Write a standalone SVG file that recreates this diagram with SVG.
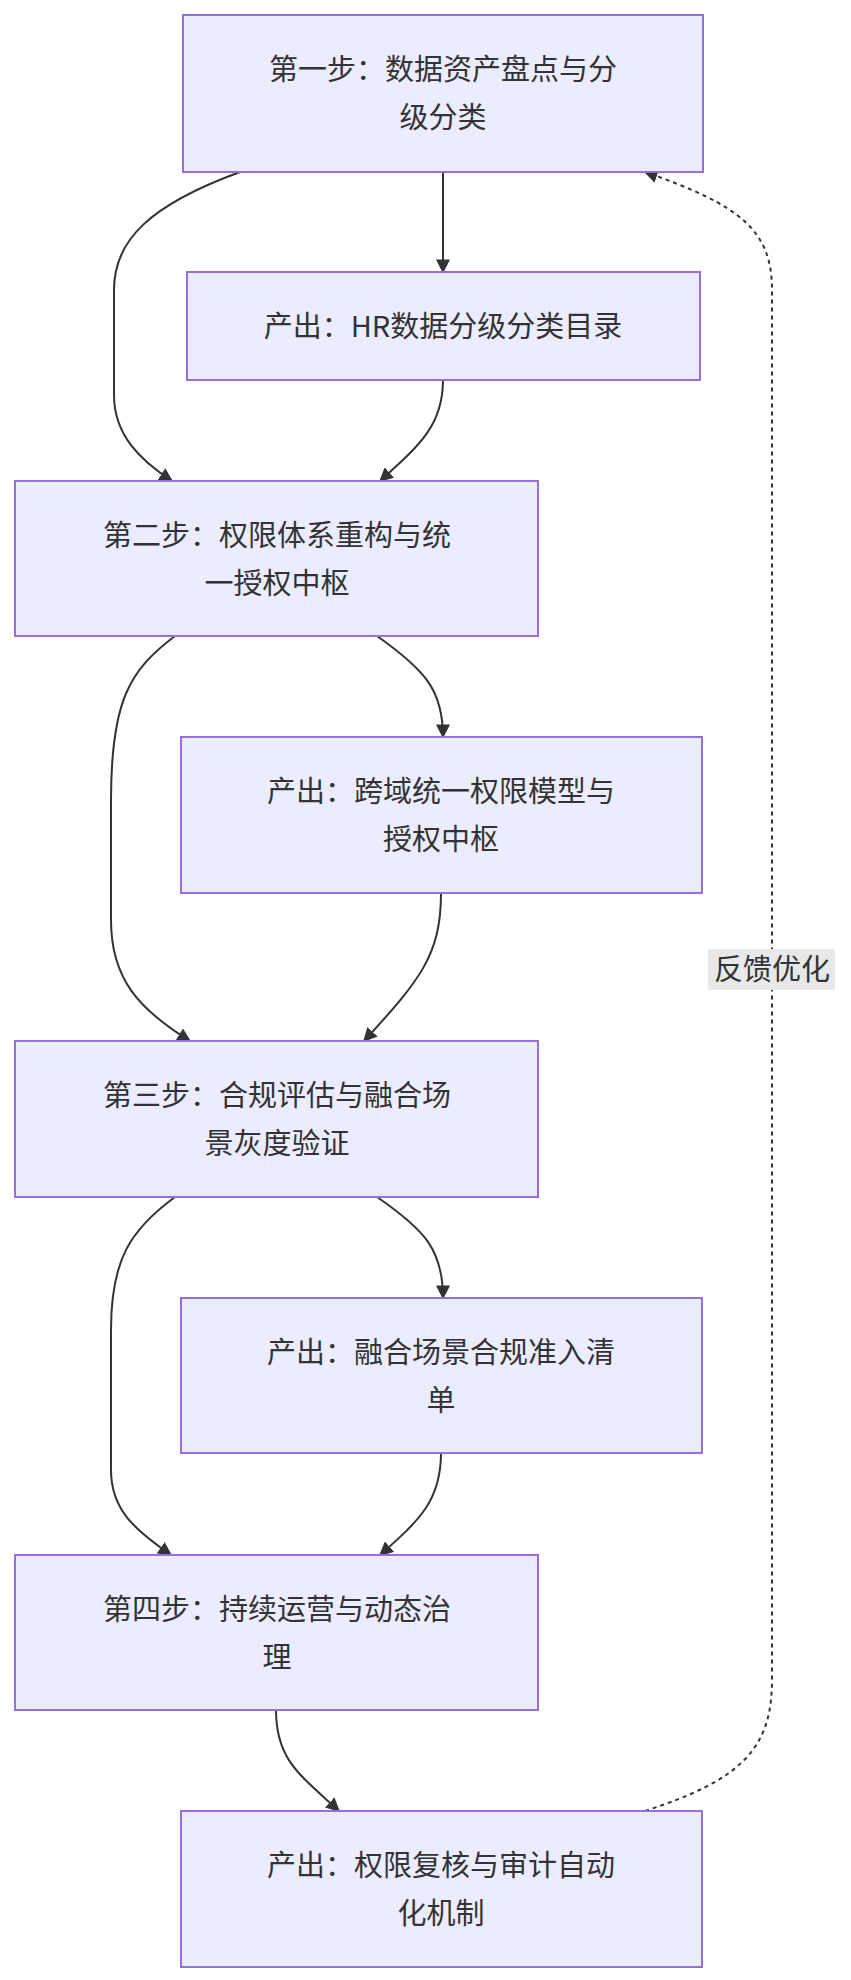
<svg xmlns="http://www.w3.org/2000/svg" width="851" height="1980" viewBox="0 0 851 1980">
<style>
.n rect{fill:#ECECFF;stroke:#9370DB;stroke-width:2}
text{font-family:"Noto Sans CJK SC","Liberation Sans",sans-serif;font-size:29px;fill:#333;text-anchor:middle}
.e path{fill:none;stroke:#333;stroke-width:2}
.d{stroke-dasharray:4 4}
</style>
<defs><marker id="a" viewBox="0 0 10 10" refX="9" refY="5" markerWidth="9" markerHeight="9" orient="auto-start-reverse" markerUnits="userSpaceOnUse"><path d="M0,0L10,5L0,10z" fill="#333"/></marker>
<marker id="b" viewBox="0 0 10 10" refX="9" refY="5" markerWidth="14" markerHeight="14" orient="auto" markerUnits="userSpaceOnUse"><path d="M0,0L10,5L0,10z" fill="#333"/></marker></defs>
<g class="e">
<path d="M443,172V272" marker-end="url(#b)"/>
<path d="M240,172C150,205 114,240 114,290V395C114,435 140,460 172,481" marker-end="url(#b)"/>
<path d="M443,380C443,425 420,445 380,481" marker-end="url(#b)"/>
<path d="M377,636C425,670 443,690 443,737" marker-end="url(#b)"/>
<path d="M175,636C130,670 111,700 111,800V920C111,980 140,1010 190,1041" marker-end="url(#b)"/>
<path d="M441,893C441,955 420,980 364,1041" marker-end="url(#b)"/>
<path d="M377,1197C425,1230 443,1250 443,1298" marker-end="url(#b)"/>
<path d="M175,1197C130,1230 111,1260 111,1330V1470C111,1510 135,1530 171,1555" marker-end="url(#b)"/>
<path d="M441,1453C441,1500 420,1520 380,1555" marker-end="url(#b)"/>
<path d="M276,1710C276,1760 300,1775 339,1811" marker-end="url(#b)"/>
<path class="d" d="M645,1811C740,1780 772,1750 772,1680V290C772,230 740,205 645,172" marker-end="url(#b)"/>
</g>
<g id="fb"><rect x="708" y="949" width="127" height="41" fill="#e8e8e8"/><text x="772" y="980">反馈优化</text></g>
<g id="n1" class="n"><rect x="183" y="15" width="520" height="157"/><text x="443" y="80">第一步：数据资产盘点与分</text><text x="443" y="128">级分类</text></g>
<g id="p1" class="n"><rect x="187" y="272" width="513" height="108"/><text x="443" y="337">产出：HR数据分级分类目录</text></g>
<g id="n2" class="n"><rect x="15" y="481" width="523" height="155"/><text x="277" y="546">第二步：权限体系重构与统</text><text x="277" y="594">一授权中枢</text></g>
<g id="p2" class="n"><rect x="181" y="737" width="521" height="156"/><text x="441" y="802">产出：跨域统一权限模型与</text><text x="441" y="850">授权中枢</text></g>
<g id="n3" class="n"><rect x="15" y="1041" width="523" height="156"/><text x="277" y="1106">第三步：合规评估与融合场</text><text x="277" y="1154">景灰度验证</text></g>
<g id="p3" class="n"><rect x="181" y="1298" width="521" height="155"/><text x="441" y="1363">产出：融合场景合规准入清</text><text x="441" y="1411">单</text></g>
<g id="n4" class="n"><rect x="15" y="1555" width="523" height="155"/><text x="277" y="1620">第四步：持续运营与动态治</text><text x="277" y="1668">理</text></g>
<g id="p4" class="n"><rect x="181" y="1811" width="521" height="156"/><text x="441" y="1876">产出：权限复核与审计自动</text><text x="441" y="1924">化机制</text></g>
</svg>
